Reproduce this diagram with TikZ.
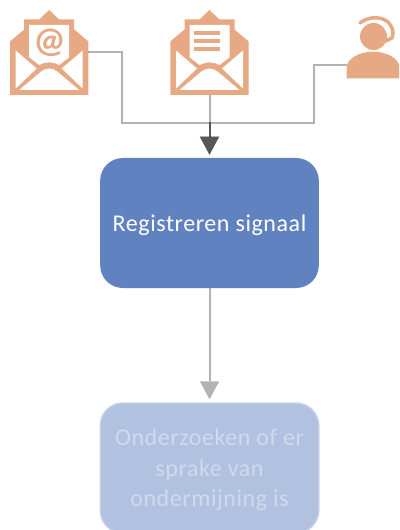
\documentclass[tikz,border=0pt]{standalone}
\usepackage{fontspec}
\setmainfont{Carlito}
\usetikzlibrary{arrows.meta}
\definecolor{iconcolor}{HTML}{E6A984}
\definecolor{boxblue}{HTML}{6182C1}
\definecolor{boxpale}{HTML}{B1C1E0}
\definecolor{edgepale}{HTML}{C5D2E9}
\definecolor{textpale}{HTML}{CFDAED}
\newcommand{\lowerline}[1]{\raisebox{-1.6pt}[\height][\depth]{#1}}
\tikzset{
  icon/.style={inner sep=0pt,outer sep=0pt},
  stage/.style={rounded corners=17pt,minimum width=164pt,minimum height=97.5pt,align=center,inner sep=0pt,font=\fontsize{18}{22.9}\addfontfeatures{LetterSpace=2.4}\selectfont},
  feed/.style={line width=1.5pt,draw=black,draw opacity=0.3,fill opacity=0.3,shorten >=2.25pt,-{Triangle[length=13.5pt,width=14.5pt,line width=0pt]}},
  envelope/.pic={
    \fill [iconcolor] (0,-42.5) -- (-10,-33) -- (-25,-33) -- (-25,-23) -- (-39.2,-11) -- (-39.2,42.5) -- (39.2,42.5) -- (39.2,-11) -- (25,-23) -- (25,-33) -- (10,-33) -- cycle;
    \fill [white] (-20,-27.5) -- (20,-27.5) -- (20,4.8) -- (10,12.5) .. controls (4,9) and (-4,9) .. (-10,12.5) -- (-20,4.8) -- cycle;
    \fill [white] (-33.5,-2) -- (-12.5,16) -- (-33.5,36) -- cycle;
    \fill [white] (33.5,-2) -- (12.5,16) -- (33.5,36) -- cycle;
    \fill [white] (-30,37.5) -- (-8,19) .. controls (-3,15) and (3,15) .. (8,19) -- (30,37.5) -- cycle;
  }
}
\begin{document}
\begin{tikzpicture}[line cap=butt,line join=miter,x=0.75pt,y=-0.75pt]
\useasboundingbox (0,0) rectangle (399,530);
\clip (0,0) rectangle (399,530);
\node [icon,minimum width=58.8pt,minimum height=63.75pt] (mailat) at (49.2,52.5) {};
\node [icon,minimum width=58.8pt,minimum height=63.75pt] (mailtext) at (209.5,52.5) {};
\node [icon,minimum width=39.5pt,minimum height=19.5pt] (agent) at (373,65) {};
\node [stage,fill=boxblue,text=white] (register) at (209.5,223) {\lowerline{Registreren signaal}};
\node [stage,fill=boxpale,draw=edgepale,line width=1pt,text=textpale] (inspect) at (209.5,468) {\lowerline{Onderzoeken of er}\\\lowerline{sprake van}\\\lowerline{ondermijning is}};
\coordinate (busleft) at (121.5,122.7);
\coordinate (busright) at (313.5,122.7);
\coordinate (busmid) at (register.north |- busleft);
% icons
\pic at (mailat) {envelope};
\pic at (mailtext) {envelope};
\node [icon,text=iconcolor,font=\fontsize{27}{27}\bfseries\selectfont] (atsign) at (49.6,43) {@};
\fill [iconcolor] (194,31) rectangle (220,35);
\fill [iconcolor] (194,39) rectangle (220,43);
\fill [iconcolor] (194,47) rectangle (220,51);
\fill [iconcolor] (373.5,36.5) circle (13.5);
\fill [iconcolor] (346.7,78.3) -- (346.7,68) .. controls (346.7,58) and (360,51.7) .. (373,51.7) .. controls (386,51.7) and (399.5,58) .. (399.5,68) -- (399.5,78.3) -- cycle;
\draw [iconcolor,line width=2.6pt,line cap=round] (360,23) .. controls (367,17) and (380,15.5) .. (388,22) .. controls (393,27) and (394,33) .. (392,38) -- (378,44.5);
% connectors
\draw [feed] (mailat.east) -| (busleft) -- (busmid) -- (register.north);
\draw [feed] (agent.west) -| (busright) -- (busmid) -- (register.north);
\draw [feed] (mailtext.south) -- (register.north);
\draw [feed] (register.south) -- (inspect.north);
\end{tikzpicture}
\end{document}
